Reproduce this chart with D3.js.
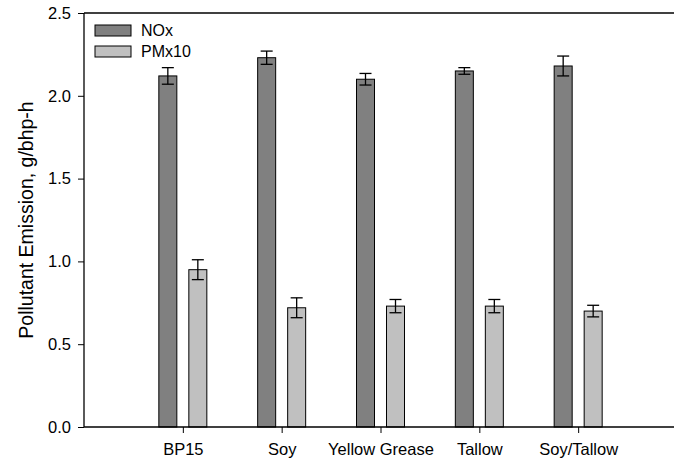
<!DOCTYPE html>
<html>
<head>
<meta charset="utf-8">
<script src="https://cdn.jsdelivr.net/npm/d3@7/dist/d3.min.js"></script>
<style>
  body { margin: 0; background: #fff; }
  svg { display: block; font-family: "Liberation Sans", Arial, sans-serif; }
</style>
</head>
<body>
<svg id="chart" width="674" height="462"></svg>
<script>
// Fuels tested and measured emissions (g/bhp-h) with error bar half-widths
const categories = ["BP15", "Soy", "Yellow Grease", "Tallow", "Soy/Tallow"];
const noxValues = [2.12, 2.23, 2.10, 2.15, 2.18];
const noxErrors = [0.05, 0.04, 0.035, 0.02, 0.06];
const pmValues = [0.95, 0.72, 0.73, 0.73, 0.70];
const pmErrors = [0.06, 0.06, 0.04, 0.04, 0.035];
const seriesNames = ["NOx", "PMx10"];
const yTicks = [0.0, 0.5, 1.0, 1.5, 2.0, 2.5];

const svg = d3.select("#chart");
const plotLeft = 84, plotTop = 13, plotBottom = 427;
const fontFamily = "Liberation Sans, Arial, sans-serif";

// Category positions sit at 1..5 on a 0..6 axis that runs past the right edge
const x = d3.scaleLinear().domain([0, 6]).range([plotLeft, 677]);
const y = d3.scaleLinear().domain([0, 2.5]).range([plotBottom, plotTop]);

const barW = 18, offset = 15;
const series = [
  { name: seriesNames[0], values: noxValues, errors: noxErrors, fill: "#808080", dx: -offset },
  { name: seriesNames[1], values: pmValues, errors: pmErrors, fill: "#c0c0c0", dx: offset }
];

series.forEach(s => {
  const g = svg.append("g");
  g.selectAll("rect").data(s.values).join("rect")
    .attr("x", (d, i) => x(i + 1) + s.dx - barW / 2)
    .attr("y", d => y(d))
    .attr("width", barW)
    .attr("height", d => y(0) - y(d))
    .attr("fill", s.fill)
    .attr("stroke", "#000")
    .attr("stroke-width", 1);

  // Error bars with caps
  const eb = svg.append("g").attr("stroke", "#000").attr("stroke-width", 1.3);
  s.values.forEach((v, i) => {
    const cx = x(i + 1) + s.dx;
    const e = s.errors[i];
    eb.append("line").attr("x1", cx).attr("x2", cx).attr("y1", y(v + e)).attr("y2", y(v - e));
    eb.append("line").attr("x1", cx - 6).attr("x2", cx + 6).attr("y1", y(v + e)).attr("y2", y(v + e));
    eb.append("line").attr("x1", cx - 6).attr("x2", cx + 6).attr("y1", y(v - e)).attr("y2", y(v - e));
  });
});

// Y axis
const yAxis = svg.append("g")
  .attr("transform", `translate(${plotLeft},0)`)
  .call(d3.axisLeft(y).tickValues(yTicks).tickFormat(d3.format(".1f")).tickSize(6).tickPadding(7));
yAxis.select(".domain").attr("stroke", "#000").attr("stroke-width", 1.3).attr("d", `M0,${plotBottom}V${plotTop}`);
yAxis.selectAll("text").attr("font-size", 16.5).attr("fill", "#000").attr("font-family", fontFamily);
yAxis.selectAll(".tick line").attr("stroke", "#000");

// X axis
const xAxis = svg.append("g")
  .attr("transform", `translate(0,${plotBottom})`)
  .call(d3.axisBottom(x).tickValues([1, 2, 3, 4, 5]).tickFormat(d => categories[d - 1]).tickSize(6).tickPadding(10));
xAxis.select(".domain").attr("stroke", "#000").attr("stroke-width", 1.3).attr("d", `M${plotLeft},0H674`);
xAxis.selectAll("text").attr("font-size", 16.5).attr("fill", "#000").attr("font-family", fontFamily);
xAxis.selectAll(".tick line").attr("stroke", "#000");

// Top frame line
svg.append("line").attr("x1", plotLeft).attr("x2", 674).attr("y1", plotTop).attr("y2", plotTop)
  .attr("stroke", "#000").attr("stroke-width", 1.3);

// Y axis title
svg.append("text")
  .attr("transform", `translate(33,${(plotTop + plotBottom) / 2}) rotate(-90)`)
  .attr("text-anchor", "middle")
  .attr("font-size", 19.5)
  .attr("font-family", fontFamily)
  .text("Pollutant Emission, g/bhp-h");

// Legend
const legend = svg.append("g");
series.forEach((s, i) => {
  const ly = 25 + i * 21;
  legend.append("rect").attr("x", 95).attr("y", ly).attr("width", 36).attr("height", 11)
    .attr("fill", s.fill).attr("stroke", "#000").attr("stroke-width", 1);
  legend.append("text").attr("x", 141).attr("y", ly + 11).attr("font-size", 16)
    .attr("font-family", fontFamily).text(s.name);
});
</script>
</body>
</html>
